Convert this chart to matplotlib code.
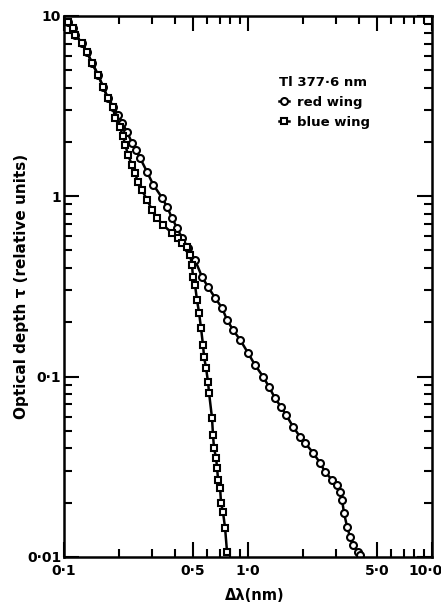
import numpy as np
import matplotlib
matplotlib.use('Agg')
import matplotlib.pyplot as plt
from matplotlib.ticker import FixedLocator, NullFormatter, LogLocator
from matplotlib.transforms import ScaledTranslation

# red wing (circles): wavelength offset (nm) and optical depth
red_dl = [0.105, 0.112, 0.115, 0.125, 0.133, 0.142, 0.153, 0.163, 0.173, 0.185,
          0.197, 0.207, 0.220, 0.234, 0.246, 0.259, 0.283, 0.305, 0.341, 0.363,
          0.386, 0.411, 0.438, 0.472, 0.515, 0.562, 0.606, 0.662, 0.722, 0.769,
          0.829, 0.905, 1.00, 1.09, 1.21, 1.30, 1.40, 1.51, 1.61, 1.76,
          1.92, 2.04, 2.26, 2.46, 2.62, 2.86, 3.05, 3.16, 3.24, 3.32,
          3.45, 3.58, 3.72, 3.96, 4.06]
red_tau = [9.26, 8.58, 7.85, 7.08, 6.31, 5.49, 4.71, 4.04, 3.51, 3.13,
           2.82, 2.55, 2.27, 1.98, 1.81, 1.63, 1.36, 1.16, 0.98, 0.873,
           0.758, 0.667, 0.587, 0.516, 0.443, 0.357, 0.314, 0.273, 0.240, 0.206,
           0.181, 0.160, 0.135, 0.116, 0.0995, 0.0875, 0.0760, 0.0678, 0.0612, 0.0525,
           0.0462, 0.0428, 0.0377, 0.0332, 0.0296, 0.0267, 0.0251, 0.0229, 0.0207, 0.0175,
           0.0147, 0.0129, 0.0116, 0.0106, 0.0103]

# blue wing (squares)
blue_dl = [0.105, 0.112, 0.115, 0.125, 0.133, 0.142, 0.153, 0.163, 0.173, 0.185,
           0.189, 0.201, 0.209, 0.215, 0.223, 0.234, 0.243, 0.252, 0.265, 0.283,
           0.301, 0.320, 0.345, 0.386, 0.417, 0.438, 0.466, 0.484, 0.496, 0.502,
           0.515, 0.528, 0.542, 0.555, 0.569, 0.577, 0.591, 0.606, 0.614, 0.637,
           0.645, 0.653, 0.670, 0.679, 0.687, 0.705, 0.713, 0.731, 0.750, 0.769]
blue_tau = [9.26, 8.58, 7.85, 7.08, 6.31, 5.49, 4.71, 4.04, 3.51, 3.13,
            2.72, 2.42, 2.16, 1.93, 1.69, 1.49, 1.35, 1.20, 1.08, 0.953,
            0.839, 0.758, 0.693, 0.625, 0.587, 0.551, 0.524, 0.472, 0.416, 0.357,
            0.322, 0.266, 0.225, 0.186, 0.150, 0.128, 0.112, 0.0933, 0.0811, 0.0589,
            0.0474, 0.0402, 0.0354, 0.0311, 0.0267, 0.0241, 0.0199, 0.0177, 0.0145, 0.0106]

x_ticks = [0.1, 0.5, 1.0, 5.0, 10.0]
x_ticklabels = ['0·1', '0·5', '1·0', '5·0', '10·0']
y_ticks = [0.01, 0.1, 1, 10]
y_ticklabels = ['0·01', '0·1', '1', '10']

plt.rcParams['font.family'] = ['DejaVu Sans']
plt.rcParams['font.weight'] = 'bold'

fig = plt.figure(figsize=(4.41, 6.06), dpi=100)
ax = fig.add_axes([0.145, 0.081, 0.835, 0.893])

ax.plot(red_dl, red_tau, '-o', color='black', lw=1.8, ms=5, mfc='white',
        mec='black', mew=1.5, label='red wing')
ax.plot(blue_dl, blue_tau, '-s', color='black', lw=1.8, ms=4.5, mfc='white',
        mec='black', mew=1.5, label='blue wing')

ax.set_xscale('log')
ax.set_yscale('log')
ax.set_xlim(0.1, 10)
ax.set_ylim(0.01, 10)

ax.xaxis.set_major_locator(FixedLocator(x_ticks))
ax.set_xticklabels(x_ticklabels, fontsize=10, fontweight='bold')
ax.xaxis.set_minor_locator(LogLocator(base=10, subs=(2, 3, 4, 6, 7, 8, 9)))
ax.xaxis.set_minor_formatter(NullFormatter())
ax.yaxis.set_major_locator(FixedLocator(y_ticks))
ax.set_yticklabels(y_ticklabels, fontsize=10, fontweight='bold')
ax.yaxis.set_minor_locator(LogLocator(base=10, subs=np.arange(2, 10)))
ax.yaxis.set_minor_formatter(NullFormatter())

ax.tick_params(which='both', direction='in', top=True, right=True, width=1.5)
ax.tick_params(which='major', length=11)
ax.tick_params(axis='x', which='major', pad=5)
ax.tick_params(axis='y', which='major', pad=2)
ax.tick_params(which='minor', length=6)
for sp in ax.spines.values():
    sp.set_linewidth(1.8)

# nudge the last x label left so it stays inside the figure
last = ax.xaxis.get_major_ticks()[-1].label1
last.set_transform(last.get_transform() + ScaledTranslation(-7 / 100, 0, fig.dpi_scale_trans))

ax.set_xlabel('Δλ(nm)', fontsize=10.5, fontweight='bold')
ax.xaxis.set_label_coords(0.519, -0.058)
ax.set_ylabel('Optical depth τ (relative units)', fontsize=11, fontweight='bold')
ax.yaxis.set_label_coords(-0.095, 0.5)

leg = ax.legend(title='Tl 377·6 nm', loc='upper right', bbox_to_anchor=(0.855, 0.905),
                frameon=False, fontsize=9.5, handlelength=0.7, handletextpad=0.6,
                labelspacing=0.5, borderpad=0.2)
leg.get_title().set_fontsize(9.5)
leg.get_title().set_fontweight('bold')
leg._legend_box.align = 'left'

fig.savefig('out.png', dpi=100)
